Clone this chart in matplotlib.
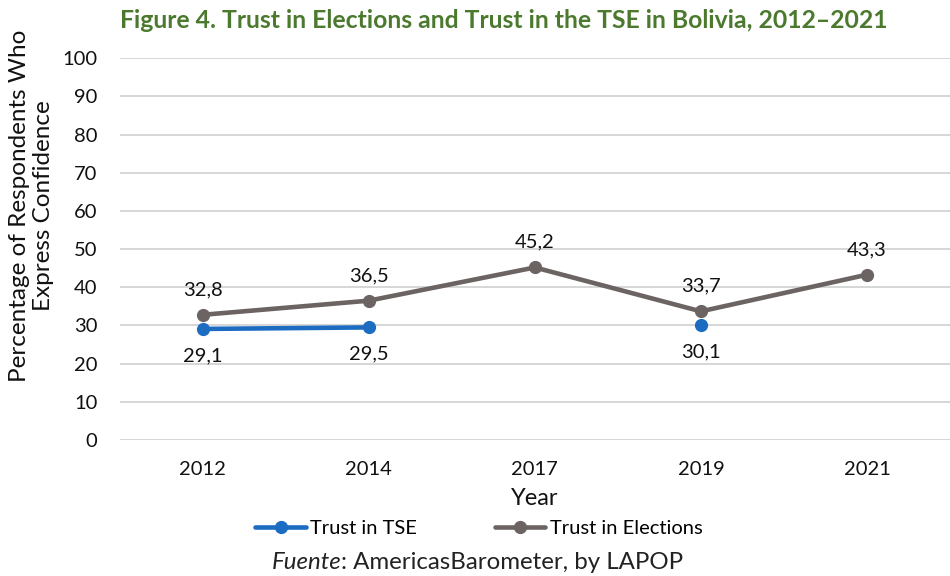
import numpy as np
import matplotlib.pyplot as plt

plt.rcParams['font.family'] = ['Lato', 'DejaVu Sans']

years = ["2012", "2014", "2017", "2019", "2021"]
trust_tse = [29.1, 29.5, np.nan, 30.1, np.nan]
trust_elections = [32.8, 36.5, 45.2, 33.7, 43.3]
y_ticks = [0, 10, 20, 30, 40, 50, 60, 70, 80, 90, 100]

blue = "#1c6cc2"
grey = "#6b6463"
ink = "#111111"

fig = plt.figure(figsize=(9.5, 5.76), dpi=100)
ax = fig.add_axes([0.126, 0.236, 0.874, 0.663])

x = np.arange(len(years))

ax.plot(x, trust_tse, color=blue, lw=3.3, marker="o", ms=8.5,
        solid_capstyle="round", label="Trust in TSE", zorder=3)
ax.plot(x, trust_elections, color=grey, lw=3.3, marker="o", ms=8.5,
        solid_capstyle="round", label="Trust in Elections", zorder=3)

# value labels: elections above, TSE below
for xi, v in zip(x, trust_elections):
    ax.annotate(f"{v:.1f}".replace(".", ","), (xi, v), xytext=(0, 12),
                textcoords="offset points", ha="center", va="bottom",
                fontsize=14.5, color=ink)
for xi, v in zip(x, trust_tse):
    if np.isnan(v):
        continue
    ax.annotate(f"{v:.1f}".replace(".", ","), (xi, v), xytext=(0, -13),
                textcoords="offset points", ha="center", va="top",
                fontsize=14.5, color=ink)

ax.set_xlim(-0.5, len(years) - 0.5)
ax.set_ylim(0, 100)
ax.set_yticks(y_ticks)
ax.set_xticks(x)
ax.set_xticklabels(years)
ax.tick_params(length=0, labelsize=14.5, colors=ink)
ax.tick_params(axis="y", pad=16)
ax.tick_params(axis="x", pad=15)
ax.yaxis.grid(True, color="#d6d6d6", lw=1.4)
ax.set_axisbelow(True)
for s in ax.spines.values():
    s.set_visible(False)

fig.text(0.563, 0.134, "Year", ha="center", va="center", fontsize=17, color=ink)
fig.text(0.033, 0.643, "Percentage of Respondents Who\nExpress Confidence",
         rotation=90, ha="center", va="center", multialignment="center",
         fontsize=17.5, color=ink, linespacing=1.15)

fig.text(0.53, 0.965,
         "Figure 4. Trust in Elections and Trust in the TSE in Bolivia, 2012\u20132021",
         ha="center", va="center", fontsize=17.8, fontweight="bold", color="#4b7a2e")

fig.legend(loc="center", bbox_to_anchor=(0.504, 0.083), ncol=2, frameon=False,
           fontsize=14.5, handlelength=2.5, handletextpad=0.2, columnspacing=3.9)

# source line: italic "Fuente" followed by regular text, centred as a whole
src_y = 0.023
full = fig.text(0.505, src_y, "Fuente: AmericasBarometer, by LAPOP", ha="center",
                va="center", fontsize=17.3, alpha=0)
fig.canvas.draw()
r = fig.canvas.get_renderer()
bb = full.get_window_extent(r)
ta = fig.text(bb.x0 / fig.bbox.width, src_y, "Fuente", fontstyle="italic",
              ha="left", va="center", fontsize=17.3, color="#222222")
wa = ta.get_window_extent(r).x1
fig.text(wa / fig.bbox.width, src_y, ": AmericasBarometer, by LAPOP",
         ha="left", va="center", fontsize=17.3, color="#222222")

fig.savefig("out.png", dpi=100)
